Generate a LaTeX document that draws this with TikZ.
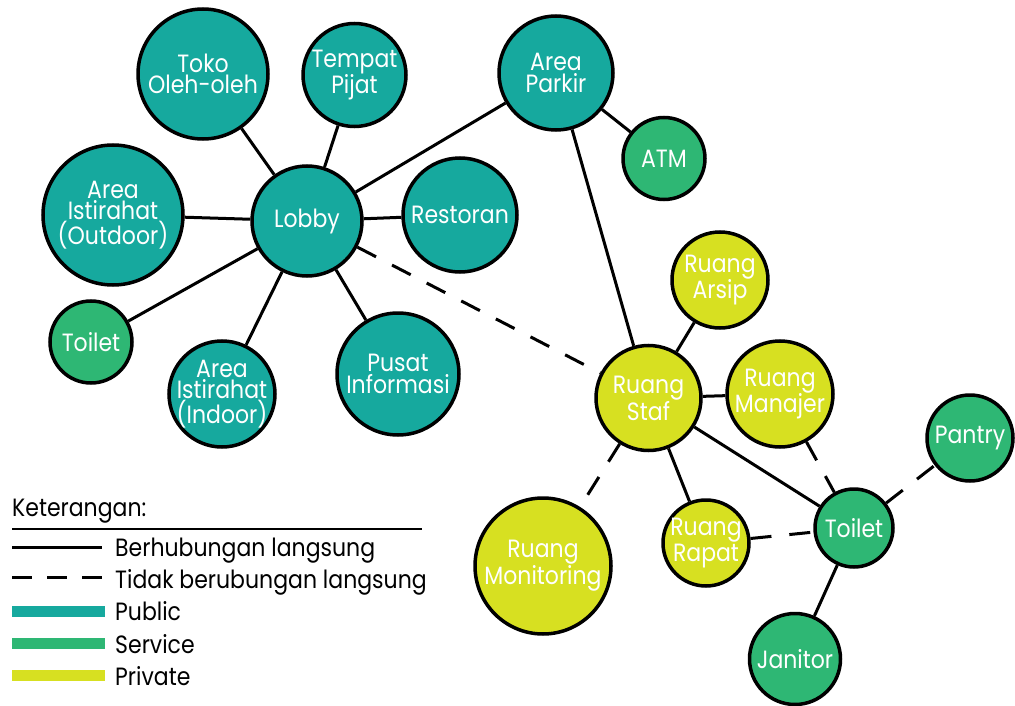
\documentclass[tikz,border=0pt]{standalone}
\usepackage{fontspec}
\setmainfont{Poppins}[FakeStretch=0.88]
\definecolor{pubc}{HTML}{16A99E}
\definecolor{srvc}{HTML}{2EB774}
\definecolor{prvc}{HTML}{D7E021}
\begin{document}
\begin{tikzpicture}[x=1pt,y=-1pt,
  room/.style={circle, draw=black, line width=3.5pt, inner sep=0pt, minimum size=#1},
  pub/.style={room=#1, fill=pubc},
  srv/.style={room=#1, fill=srvc},
  prv/.style={room=#1, fill=prvc},
  every label/.style={align=center, text=white, inner sep=0pt, font=\fontsize{25}{21.5}\selectfont},
  link/.style={line width=3pt},
  nolink/.style={line width=3pt, dash pattern=on 21pt off 18pt},
  legtext/.style={font=\fontsize{25}{25}\selectfont, inner sep=0pt, text=black},
  bar/.style={line width=11pt}
]
\useasboundingbox (0,0) rectangle (1015,706);

% rooms
\node[pub=130pt, label={center:{Toko\\Oleh-oleh}}] (toko) at (203,74) {};
\node[pub=103pt, label={center:{Tempat\\Pijat}}] (pijat) at (354.5,75) {};
\node[pub=114pt, label={center:{Area\\Parkir}}] (parkir) at (556,73) {};
\node[srv=82pt, label={center:{ATM}}] (atm) at (664,158.5) {};
\node[pub=140pt, label={center:{Area\\Istirahat\\(Outdoor)}}] (outdoor) at (113,215) {};
\node[pub=110pt, label={center:{Lobby}}] (lobby) at (307,221) {};
\node[pub=114pt, label={center:{Restoran}}] (resto) at (460,215) {};
\node[srv=82pt, label={center:{Toilet}}] (toiletL) at (91,342) {};
\node[pub=106pt, label={center:{Area\\Istirahat\\(Indoor)}}] (indoor) at (222,394) {};
\node[pub=122pt, label={center:{Pusat\\Informasi}}] (pusat) at (398,374) {};
\node[prv=96pt, label={center:{Ruang\\Arsip}}] (arsip) at (720,280) {};
\node[prv=105pt, label={center:{Ruang\\Staf}}] (staf) at (648.5,398) {};
\node[prv=106pt, label={center:{Ruang\\Manajer}}] (manajer) at (780,394) {};
\node[srv=86pt, label={center:{Pantry}}] (pantry) at (970,438) {};
\node[srv=78pt, label={center:{Toilet}}] (toiletR) at (854,528) {};
\node[prv=86pt, label={center:{Ruang\\Rapat}}] (rapat) at (706,543) {};
\node[prv=136pt, label={center:{Ruang\\Monitoring}}] (monitor) at (543,566) {};
\node[srv=91pt, label={center:{Janitor}}] (janitor) at (795,659) {};

% connectors
\draw[link] (lobby) -- (toko);
\draw[link] (lobby) -- (pijat);
\draw[link] (lobby) -- (parkir);
\draw[link] (lobby) -- (outdoor);
\draw[link] (lobby) -- (resto);
\draw[link] (lobby) -- (toiletL);
\draw[link] (lobby) -- (indoor);
\draw[link] (lobby) -- (pusat);
\draw[link] (parkir) -- (atm);
\draw[link] (parkir) -- (staf);
\draw[link] (staf) -- (arsip);
\draw[link] (staf) -- (manajer);
\draw[link] (staf) -- (rapat);
\draw[link] (staf) -- (toiletR);
\draw[link] (toiletR) -- (janitor);
\draw[nolink] (lobby) -- (staf);
\draw[nolink] (staf) -- (monitor);
\draw[nolink] (manajer) -- (toiletR);
\draw[nolink] (rapat) -- (toiletR);
\draw[nolink] (toiletR) -- (pantry);

% legend
\node[legtext, anchor=base west] (ket) at (12,516) {Keterangan:};
\coordinate (r1) at (12,529); \coordinate (r2) at (422,529);
\draw[line width=1.5pt] (r1) -- (r2);
\coordinate (s1) at (12,547); \coordinate (s2) at (102,547);
\draw[link] (s1) -- (s2);
\node[legtext, anchor=base west] (t1) at (115,556) {Berhubungan langsung};
\coordinate (d1) at (12,577); \coordinate (d2) at (102,577);
\draw[line width=3pt, dash pattern=on 20pt off 15pt] (d1) -- (d2);
\node[legtext, anchor=base west] (t2) at (115,588) {Tidak berubungan langsung};
\coordinate (p1) at (12,611); \coordinate (p2) at (105,611);
\draw[bar, pubc] (p1) -- (p2);
\node[legtext, anchor=base west] (t3) at (115,620) {Public};
\coordinate (v1) at (12,643); \coordinate (v2) at (105,643);
\draw[bar, srvc] (v1) -- (v2);
\node[legtext, anchor=base west] (t4) at (115,653) {Service};
\coordinate (q1) at (12,675); \coordinate (q2) at (105,675);
\draw[bar, prvc] (q1) -- (q2);
\node[legtext, anchor=base west] (t5) at (115,685) {Private};
\end{tikzpicture}
\end{document}
